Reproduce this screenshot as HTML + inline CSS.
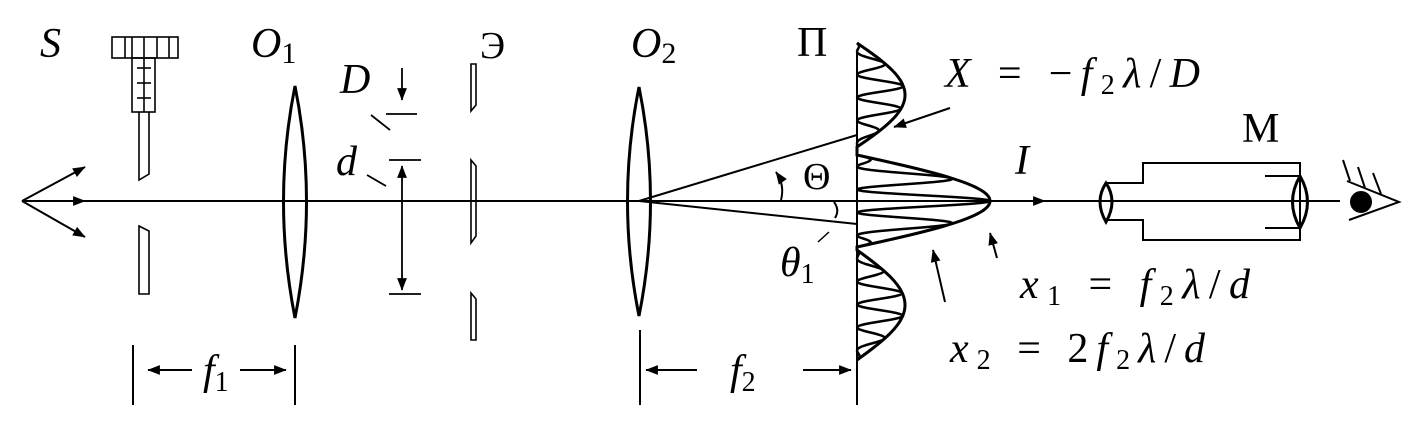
<!DOCTYPE html>
<html><head><meta charset="utf-8"><style>
html,body{margin:0;padding:0;background:#fff;}
svg{display:block;}
text{font-family:"Liberation Serif",serif;fill:#000;}
.it{font-style:italic;}
</style></head><body>
<svg id="fig" width="1412" height="421" viewBox="0 0 1412 421" xmlns="http://www.w3.org/2000/svg">
<defs>
<marker id="ah" viewBox="0 0 10 10" refX="9" refY="5" markerWidth="7" markerHeight="7" orient="auto-start-reverse" markerUnits="userSpaceOnUse" style="overflow:visible">
<path d="M-8,-2 L10,5 L-8,12 Z" fill="#000"/>
</marker>
</defs>
<g stroke="#000" stroke-width="2" fill="none">
<line x1="22" y1="201" x2="1340" y2="201"/>
<g>
<line x1="22" y1="201" x2="85" y2="167" marker-end="url(#ah)"/>
<line x1="22" y1="201" x2="85" y2="201" marker-end="url(#ah)"/>
<line x1="22" y1="201" x2="85" y2="237" marker-end="url(#ah)"/>
</g>
<g stroke-width="1.6">
<rect x="112" y="37" width="66" height="21"/>
<line x1="125" y1="37" x2="125" y2="58"/><line x1="132" y1="37" x2="132" y2="58"/><line x1="144" y1="37" x2="144" y2="58"/><line x1="157" y1="37" x2="157" y2="58"/><line x1="169" y1="37" x2="169" y2="58"/>
<rect x="132" y="58" width="23" height="54"/>
<line x1="144" y1="58" x2="144" y2="112"/>
<line x1="137" y1="68" x2="151" y2="68"/><line x1="137" y1="83" x2="151" y2="83"/><line x1="137" y1="98" x2="151" y2="98"/>
<path d="M139,112 L139,180 L149,174 L149,112"/>
<path d="M139,226 L149,231 L149,294 L139,294 Z"/>
</g>
<path stroke-width="3" d="M295,86 Q272,201 295,318 Q318,201 295,86 Z"/>
<g stroke-width="1.8">
<line x1="402" y1="68" x2="402" y2="100" marker-end="url(#ah)"/>
<line x1="386" y1="114" x2="417" y2="114"/>
<line x1="389" y1="160" x2="421" y2="160"/>
<line x1="389" y1="294" x2="421" y2="294"/>
<line x1="402" y1="200" x2="402" y2="166" marker-end="url(#ah)"/>
<line x1="402" y1="200" x2="402" y2="290" marker-end="url(#ah)"/>
<line x1="371" y1="115" x2="390" y2="130"/>
<line x1="367" y1="175" x2="386" y2="186"/>
</g>
<g stroke-width="1.6">
<path d="M471,64 L476,64 L476,105 L471,111 Z"/>
<path d="M471,160 L476,166 L476,236 L471,243 Z"/>
<path d="M471,293 L476,299 L476,340 L471,340 Z"/>
</g>
<path stroke-width="3" d="M639,87 Q616,201 639,316 Q662,201 639,87 Z"/>
<line x1="639" y1="201" x2="857" y2="135"/>
<line x1="639" y1="201" x2="857" y2="224"/>
<path d="M781,200 Q785,185 776,172" marker-end="url(#ah)"/>
<path d="M834,202 Q840,210 835,218"/>
<line x1="818" y1="242" x2="829" y2="232" stroke-width="1.5"/>
<line x1="857" y1="50" x2="857" y2="405"/>
<g id="pattern" stroke-width="3"></g>
<line x1="950" y1="108" x2="894" y2="127" marker-end="url(#ah)"/>
<line x1="945" y1="302" x2="933" y2="250" marker-end="url(#ah)"/>
<line x1="997" y1="258" x2="990" y2="233" marker-end="url(#ah)"/>
<line x1="1000" y1="201" x2="1045" y2="201" marker-end="url(#ah)"/>
<g>
<path d="M1106,183 L1143,183 L1143,163 L1300,163 L1300,240 L1143,240 L1143,220 L1106,220"/>
<line x1="1265" y1="176" x2="1300" y2="176"/>
<line x1="1265" y1="228" x2="1300" y2="228"/>
<path stroke-width="3" d="M1106,183 Q1094,201 1106,222 Q1118,201 1106,183 Z"/>
<path stroke-width="3" d="M1300,176 Q1285,202 1300,228 Q1315,202 1300,176 Z"/>
</g>
<g>
<circle cx="1361" cy="202" r="10" fill="#000"/>
<path d="M1347,181 L1399,202 L1349,220"/>
<line x1="1343" y1="160" x2="1350" y2="181"/>
<line x1="1358" y1="167" x2="1365" y2="188"/>
<line x1="1373" y1="173" x2="1381" y2="194"/>
</g>
<g>
<line x1="133" y1="345" x2="133" y2="405"/><line x1="295" y1="345" x2="295" y2="405"/>
<line x1="192" y1="370" x2="148" y2="370" marker-end="url(#ah)"/>
<line x1="240" y1="370" x2="286" y2="370" marker-end="url(#ah)"/>
</g>
<g>
<line x1="640" y1="330" x2="640" y2="405"/>
<line x1="697" y1="370" x2="646" y2="370" marker-end="url(#ah)"/>
<line x1="803" y1="370" x2="851" y2="370" marker-end="url(#ah)"/>
</g>
</g>
<g font-size="42">
<text class="it" x="40" y="57">S</text>
<text class="it" x="251" y="57">O<tspan font-style="normal" font-size="30" dy="6">1</tspan></text>
<text class="it" x="340" y="93">D</text>
<text class="it" x="336" y="175">d</text>
<text x="480" y="58" font-size="38">Э</text>
<text class="it" x="631" y="57">O<tspan font-style="normal" font-size="30" dy="6">2</tspan></text>
<text x="797" y="56">Π</text>
<text x="803" y="189" font-size="38">Θ</text>
<text class="it" x="780" y="276">θ<tspan font-style="normal" font-size="28" dy="7">1</tspan></text>
<text class="it" x="945" y="87" textLength="255" lengthAdjust="spacing">X<tspan font-style="normal"> = −</tspan>f<tspan font-style="normal" font-size="28" dy="7">2</tspan><tspan dy="-7">λ</tspan><tspan font-style="normal">/</tspan>D</text>
<text class="it" x="1015" y="174">I</text>
<text x="1242" y="142">M</text>
<text class="it" x="1020" y="298" textLength="230" lengthAdjust="spacing">x<tspan font-style="normal" font-size="28" dy="7">1</tspan><tspan font-style="normal" dy="-7"> = </tspan>f<tspan font-style="normal" font-size="28" dy="7">2</tspan><tspan dy="-7">λ</tspan><tspan font-style="normal">/</tspan>d</text>
<text class="it" x="950" y="362" textLength="255" lengthAdjust="spacing">x<tspan font-style="normal" font-size="28" dy="7">2</tspan><tspan font-style="normal" dy="-7"> = 2</tspan>f<tspan font-style="normal" font-size="28" dy="7">2</tspan><tspan dy="-7">λ</tspan><tspan font-style="normal">/</tspan>d</text>
<text class="it" x="203" y="384">f<tspan font-style="normal" font-size="28" dy="7">1</tspan></text>
<text class="it" x="730" y="384">f<tspan font-style="normal" font-size="28" dy="7">2</tspan></text>
</g>
</svg>
<script>
// envelope lobes
const lobeCenters = [95, 201, 305];
const lobeHalfWidths = [52, 46, 55];
const lobeAmplitudes = [48, 133, 48];
const fringePeriod = 23;
const g = document.getElementById('pattern');
const x0 = 857;
function env(y){
  let v = 0;
  for (let i=0;i<lobeCenters.length;i++){
    const u=(y-lobeCenters[i])/lobeHalfWidths[i];
    if (Math.abs(u)<1) v=Math.max(v,lobeAmplitudes[i]*Math.cos(Math.PI*u/2));
  }
  return v;
}
let pe='', pf='';
for (let y=43;y<=360;y+=1){
  const e=env(y);
  const c=Math.cos(Math.PI*(y-201)/fringePeriod);
  pe+=(y===43?'M':'L')+(x0+e).toFixed(1)+','+y+' ';
  pf+=(y===43?'M':'L')+(x0+e*c*c).toFixed(1)+','+y+' ';
}
const p1=document.createElementNS('http://www.w3.org/2000/svg','path');
p1.setAttribute('d',pe);


g.appendChild(p1);
const p2=document.createElementNS('http://www.w3.org/2000/svg','path');
p2.setAttribute('d',pf);
p2.setAttribute('stroke-width','2.5');


g.appendChild(p2);
</script>
</body></html>
